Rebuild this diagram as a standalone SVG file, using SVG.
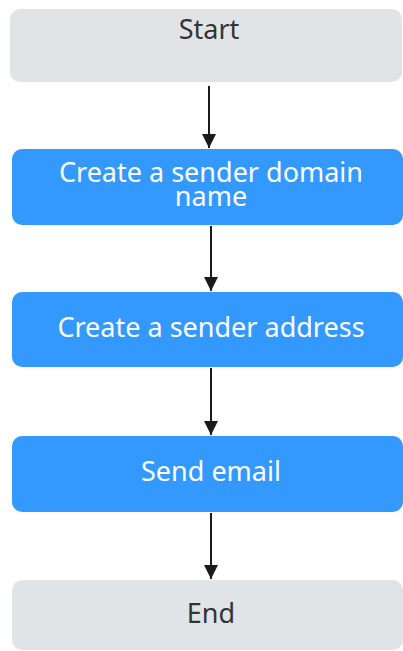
<svg xmlns="http://www.w3.org/2000/svg" width="403" height="651" viewBox="0 0 403 651">
<style>
.term{fill:#E1E4E6}
.step{fill:#3399FF}
.tt{font-family:"Noto Sans","Open Sans",sans-serif;font-size:27px;text-anchor:middle}
.dark{fill:#333333}
.light{fill:#FFFFFF}
.conn{stroke:#1a1a1a;stroke-width:2;fill:none}
</style>
<defs>
<marker id="ah" markerWidth="15" markerHeight="14" refX="14" refY="7" orient="auto" markerUnits="userSpaceOnUse">
<path d="M0,0 L14,7 L0,14 z" fill="#1a1a1a"/>
</marker>
</defs>
<rect width="403" height="651" fill="#FFFFFF"/>
<g id="start"><rect class="term" x="10" y="9" width="392" height="73" rx="10"/><text class="tt dark" x="209" y="39">Start</text></g>
<g id="domain"><rect class="step" x="12" y="149" width="391" height="76" rx="10"/><text class="tt light" x="211" y="182">Create a sender domain</text><text class="tt light" x="211" y="206">name</text></g>
<g id="address"><rect class="step" x="12" y="292" width="391" height="75" rx="10"/><text class="tt light" x="211" y="337">Create a sender address</text></g>
<g id="send"><rect class="step" x="12" y="436" width="391" height="76" rx="10"/><text class="tt light" x="211" y="481">Send email</text></g>
<g id="end"><rect class="term" x="12" y="580" width="391" height="70" rx="10"/><text class="tt dark" x="211" y="623">End</text></g>
<g id="connectors">
<line class="conn" x1="209" y1="86" x2="209" y2="148" marker-end="url(#ah)"/>
<line class="conn" x1="211" y1="226" x2="211" y2="291" marker-end="url(#ah)"/>
<line class="conn" x1="211" y1="368" x2="211" y2="435" marker-end="url(#ah)"/>
<line class="conn" x1="211" y1="513" x2="211" y2="579" marker-end="url(#ah)"/>
</g>
</svg>
